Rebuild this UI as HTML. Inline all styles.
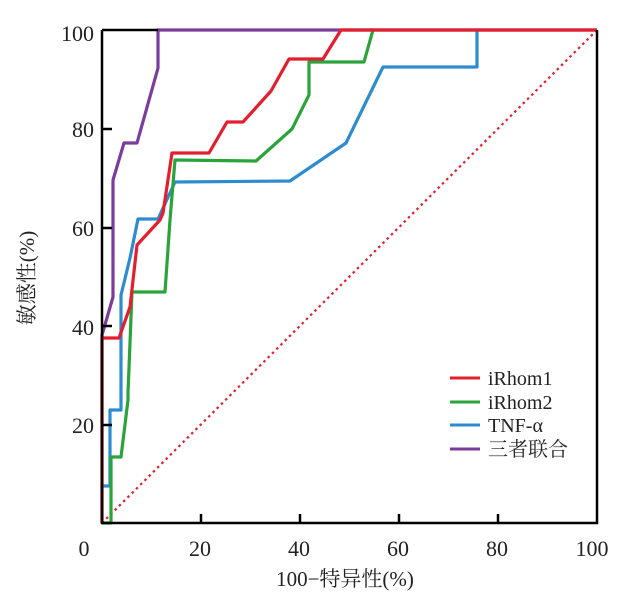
<!DOCTYPE html>
<html><head><meta charset="utf-8"><style>
html,body{margin:0;padding:0;background:#fff;}
</style></head><body>
<svg width="620" height="592" viewBox="0 0 620 592" xmlns="http://www.w3.org/2000/svg" font-family="'Liberation Serif','Noto Serif CJK SC',serif">
<g fill="none" stroke-width="3.2" stroke-linejoin="round">
<line x1="102" y1="523" x2="597" y2="30" stroke="#e02030" stroke-width="2.2" stroke-dasharray="2.5,3.5"/>
<polyline stroke="#7b3c9c" points="102,523 102,335 113,297 113,180 124,143 137,143 158,68 158,30 597,30"/>
<polyline stroke="#2d8bd0" points="102,486 110,486 110,410 121,410 121,295 130,258 138,219 158,219 175,182 290,181 346,143 383,67 477,67 477,30"/>
<polyline stroke="#2aa43a" points="102,523 111,523 111,457 121,457 128,400 128,393 132,292 165,292 170,220 175,160 256,161 292,129 309,95 309,62 364,62 373,30"/>
<polyline stroke="#e31e2d" points="102,523 102,338 119,338 130,307 137,245 160,220 163,213 172,153 209,153 227,122 243,122 271,91 289,59 323,59 341,30 597,30"/>
</g>
<g stroke="#000" stroke-width="2.5" fill="none">
<polyline points="102,30 102,523 597,523 597,30"/>
<line x1="102" y1="30" x2="158" y2="30"/>
<line x1="102" y1="425" x2="112" y2="425"/>
<line x1="102" y1="326" x2="112" y2="326"/>
<line x1="102" y1="228" x2="112" y2="228"/>
<line x1="102" y1="129" x2="112" y2="129"/>
<line x1="201" y1="523" x2="201" y2="514"/>
<line x1="300" y1="523" x2="300" y2="514"/>
<line x1="399" y1="523" x2="399" y2="514"/>
<line x1="498" y1="523" x2="498" y2="514"/>
</g>
<g font-size="22" fill="#222" text-anchor="end">
<text x="94" y="41">100</text>
<text x="94" y="137">80</text>
<text x="94" y="236">60</text>
<text x="94" y="335">40</text>
<text x="94" y="433">20</text>
</g>
<g font-size="22" fill="#222" text-anchor="middle">
<text x="84" y="556">0</text>
<text x="200" y="556">20</text>
<text x="299" y="556">40</text>
<text x="398" y="556">60</text>
<text x="497" y="556">80</text>
<text x="592" y="556">100</text>
<text x="345" y="586" font-size="21">100−特异性(%)</text>
<text transform="translate(34,278) rotate(-90)" font-size="21">敏感性(%)</text>
</g>
<g stroke-width="3">
<line x1="450" y1="378" x2="480" y2="378" stroke="#e31e2d"/>
<line x1="450" y1="402" x2="480" y2="402" stroke="#2aa43a"/>
<line x1="450" y1="425" x2="480" y2="425" stroke="#2d8bd0"/>
<line x1="450" y1="449" x2="480" y2="449" stroke="#7b3c9c"/>
</g>
<g font-size="20" fill="#222">
<text x="488" y="385">iRhom1</text>
<text x="488" y="409">iRhom2</text>
<text x="488" y="432">TNF-α</text>
<text x="488" y="456">三者联合</text>
</g>
</svg>
</body></html>
